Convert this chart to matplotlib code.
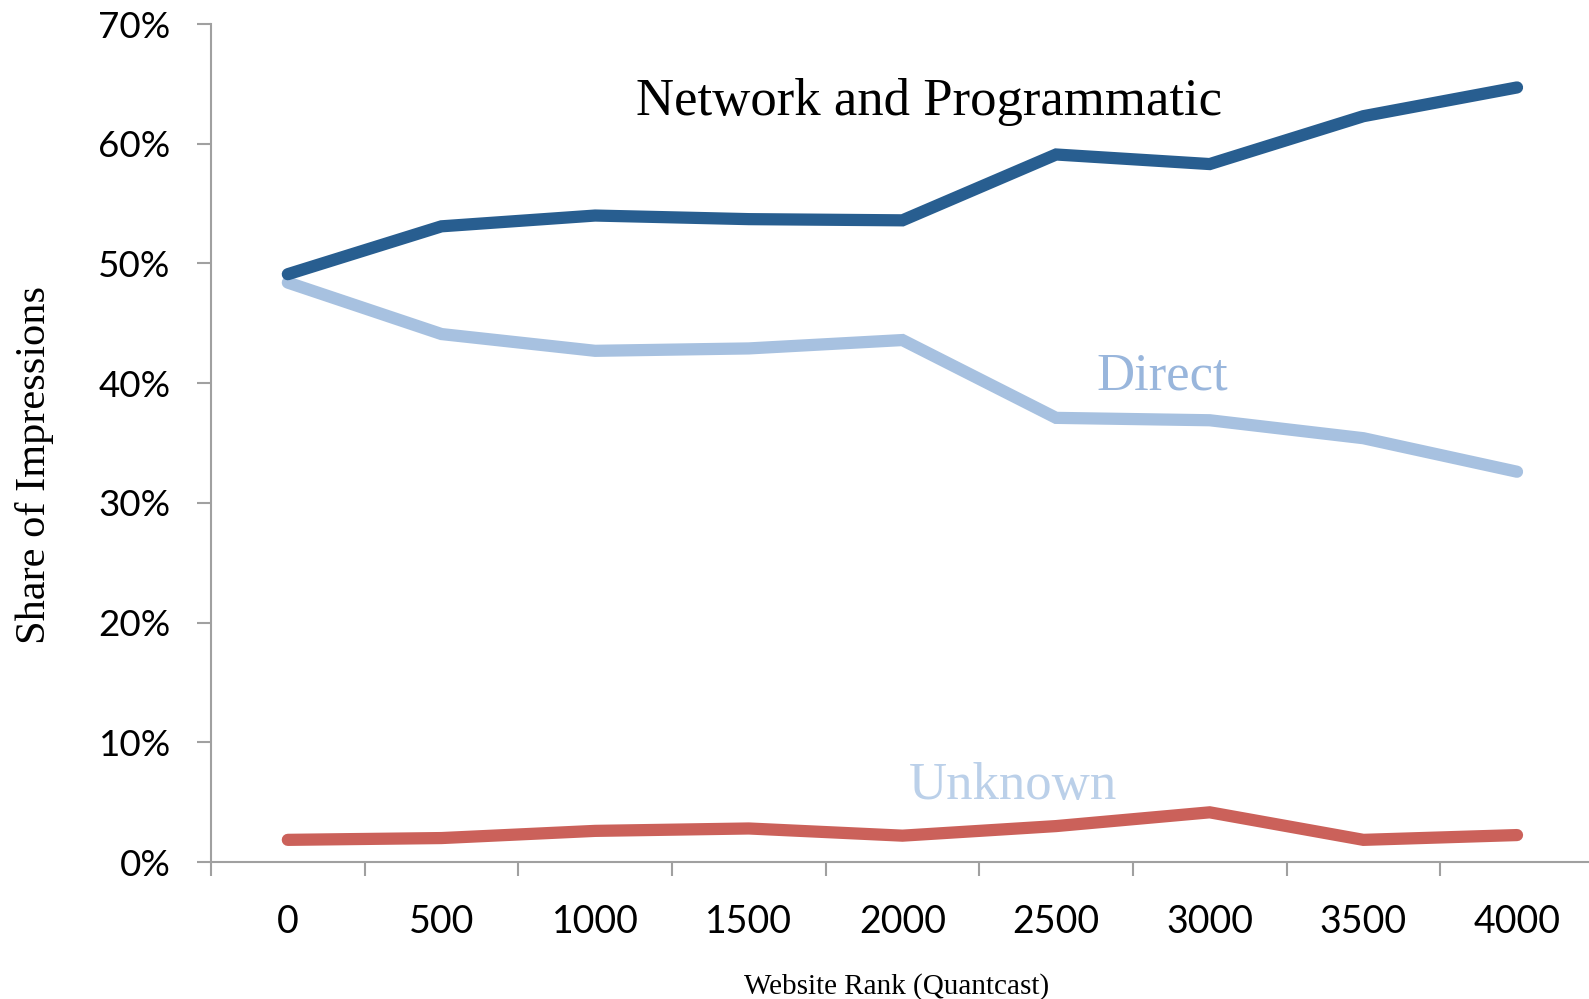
import matplotlib
matplotlib.use("Agg")
import matplotlib.pyplot as plt
from matplotlib.ticker import FixedLocator, NullFormatter

categories = ["0", "500", "1000", "1500", "2000", "2500", "3000", "3500", "4000"]
network = [49.1, 53.1, 54.0, 53.7, 53.6, 59.1, 58.3, 62.3, 64.7]
direct = [48.4, 44.1, 42.7, 42.9, 43.6, 37.1, 36.9, 35.4, 32.6]
unknown = [1.85, 2.0, 2.6, 2.8, 2.2, 3.0, 4.15, 1.85, 2.25]
yticks = [0, 10, 20, 30, 40, 50, 60, 70]
ytick_labels = ["0%", "10%", "20%", "30%", "40%", "50%", "60%", "70%"]

W, H = 1589, 999
fig = plt.figure(figsize=(W / 100, H / 100), dpi=100)
ax = fig.add_axes([211 / W, 1 - 862 / H, 1 - 211 / W, (862 - 24) / H])

x = list(range(len(categories)))
lw = 8.8
ax.plot(x, direct, color="#A7C1E0", lw=lw, solid_capstyle="round", solid_joinstyle="miter", zorder=3)
ax.plot(x, unknown, color="#CB615A", lw=lw, solid_capstyle="round", solid_joinstyle="miter", zorder=3)
ax.plot(x, network, color="#285E90", lw=lw, solid_capstyle="round", solid_joinstyle="miter", zorder=4)

step = 153.65
ax.set_xlim(-0.5, -0.5 + (W - 211) / step)
ax.set_ylim(0, 70)

for s in ["top", "right"]:
    ax.spines[s].set_visible(False)
for s in ["left", "bottom"]:
    ax.spines[s].set_color("#A0A0A0")
    ax.spines[s].set_linewidth(1.5)

ax.set_yticks(yticks)
ax.set_yticklabels(ytick_labels, fontfamily="Lato", fontsize=26.5)
ax.tick_params(axis="y", length=10, width=1.5, color="#A0A0A0", pad=19)

ax.xaxis.set_major_locator(FixedLocator([i - 0.5 for i in range(len(categories))]))
ax.xaxis.set_major_formatter(NullFormatter())
ax.xaxis.set_minor_locator(FixedLocator(x))
ax.set_xticklabels(categories, minor=True, fontfamily="Lato", fontsize=27)
ax.tick_params(axis="x", which="major", length=10, width=1.5, color="#A0A0A0")
ax.tick_params(axis="x", which="minor", length=0, pad=30.5)

serif = "Liberation Serif"
ax.text(4.17, 63.5, "Network and Programmatic", fontfamily=serif, fontsize=38,
        color="black", ha="center", va="center")
ax.text(5.69, 40.55, "Direct", fontfamily=serif, fontsize=38,
        color="#99B6DC", ha="center", va="center")
ax.text(4.72, 6.35, "Unknown", fontfamily=serif, fontsize=38,
        color="#BBD0E9", ha="center", va="center")

fig.text(897 / W, 1 - 987 / H, "Website Rank (Quantcast)", fontfamily=serif,
         fontsize=21, ha="center", va="center")
fig.text(35 / W, 1 - 465 / H, "Share of Impressions", fontfamily=serif,
         fontsize=30.5, rotation=90, ha="center", va="center")

fig.savefig("out.png", dpi=100)
